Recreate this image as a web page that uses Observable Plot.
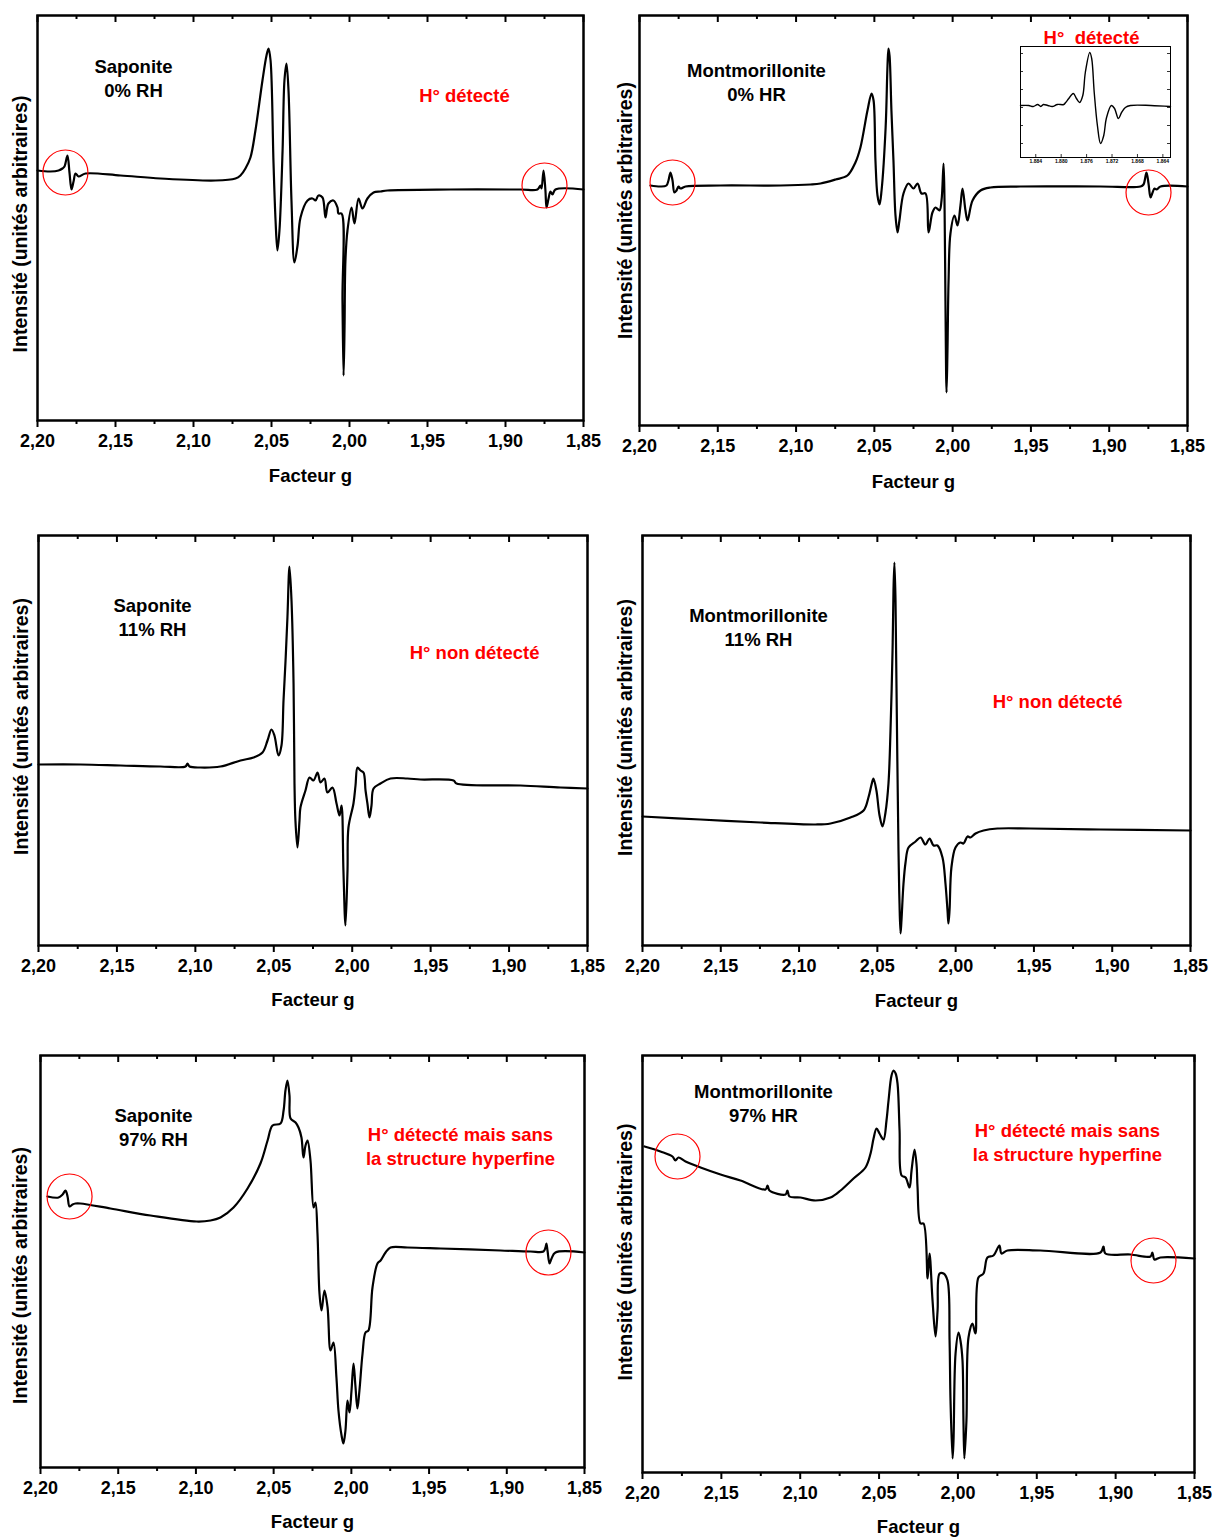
<!DOCTYPE html>
<html><head><meta charset="utf-8">
<script src="https://cdn.jsdelivr.net/npm/d3@7"></script>
<script src="https://cdn.jsdelivr.net/npm/@observablehq/plot@0.6"></script>
<style>
body{margin:0;background:#fff;}
#root{position:relative;width:1212px;height:1537px;overflow:hidden;font-family:"Liberation Sans",Arial,sans-serif;}
#root svg{position:absolute;overflow:visible;}
</style></head><body><div id="root"></div>
<script>
// ---------- DATA ----------
const majorTicks = [2.20, 2.15, 2.10, 2.05, 2.00, 1.95, 1.90, 1.85];
const minorTicks = [2.175, 2.125, 2.075, 2.025, 1.975, 1.925, 1.875];
const insetTicks = [1.884, 1.880, 1.876, 1.872, 1.868, 1.864];
const insetYTicks = [14, 32, 50, 68, 86, 104];
const xTitle = "Facteur g";
const yTitle = "Intensité (unités arbitraires)";

// [g factor, intensity (arbitrary units)]
const sap0 = [[2.2000,250],[2.1917,249],[2.1865,250],[2.1840,252],[2.1827,254],[2.1808,265],[2.1795,248],[2.1782,231],[2.1769,239],[2.1756,247],[2.1737,244],[2.1692,247],[2.1468,245],[2.1212,242],[2.0859,240],[2.0731,242],[2.0699,245],[2.0667,252],[2.0635,263],[2.0603,290],[2.0558,340],[2.0532,365],[2.0519,372],[2.0506,360],[2.0487,257],[2.0474,200],[2.0462,170],[2.0449,190],[2.0429,270],[2.0417,340],[2.0404,357],[2.0391,330],[2.0372,220],[2.0353,158],[2.0333,175],[2.0314,203],[2.0269,220],[2.0237,222],[2.0218,220],[2.0199,225],[2.0173,223],[2.0154,203],[2.0135,217],[2.0103,220],[2.0077,213],[2.0071,207],[2.0051,207],[2.0045,120],[2.0038,45],[2.0032,90],[2.0026,160],[2.0013,190],[1.9987,213],[1.9968,197],[1.9942,222],[1.9917,212],[1.9885,222],[1.9846,228],[1.9801,229],[1.9757,230],[1.9353,231],[1.8904,231],[1.8795,231],[1.8776,235],[1.8769,232],[1.8756,250],[1.8744,230],[1.8737,213],[1.8724,222],[1.8712,229],[1.8699,226],[1.8680,231],[1.8500,231]];

const mont0 = [[2.1930,240],[2.1866,239],[2.1828,240],[2.1815,245],[2.1802,253],[2.1789,245],[2.1777,233],[2.1764,235],[2.1751,239],[2.1738,237],[2.1706,239],[2.1483,240],[2.1099,240],[2.0908,241],[2.0844,242],[2.0748,246],[2.0672,250],[2.0621,263],[2.0589,278],[2.0544,315],[2.0518,332],[2.0505,325],[2.0493,265],[2.0480,230],[2.0467,221],[2.0454,235],[2.0428,298],[2.0416,360],[2.0410,377],[2.0403,370],[2.0391,315],[2.0378,265],[2.0365,210],[2.0352,193],[2.0340,205],[2.0314,232],[2.0282,242],[2.0250,237],[2.0224,242],[2.0199,232],[2.0173,232],[2.0154,193],[2.0129,213],[2.0109,218],[2.0084,215],[2.0071,225],[2.0058,262],[2.0052,225],[2.0046,125],[2.0039,33],[2.0033,75],[2.0026,145],[2.0014,192],[1.9988,210],[1.9969,200],[1.9950,220],[1.9937,237],[1.9918,215],[1.9905,205],[1.9873,225],[1.9822,235],[1.9758,238],[1.9567,239],[1.9056,239],[1.8800,239],[1.8781,241],[1.8762,253],[1.8749,242],[1.8736,228],[1.8723,233],[1.8711,237],[1.8698,236],[1.8672,239],[1.8500,239]];

const mont0Inset = [[1.8864,52],[1.8851,52],[1.8844,51],[1.8837,53],[1.8832,51],[1.8828,53],[1.8821,52],[1.8814,51],[1.8806,53],[1.8796,53],[1.8793,55],[1.8788,59],[1.8781,64],[1.8776,59],[1.8771,55],[1.8766,62],[1.8762,85],[1.8755,105],[1.8752,99],[1.8748,65],[1.8743,32],[1.8738,14],[1.8733,22],[1.8729,39],[1.8721,52],[1.8716,49],[1.8710,39],[1.8705,45],[1.8699,50],[1.8691,52],[1.8659,52],[1.8628,51]];

const sap11 = [[2.2000,181],[2.1732,181],[2.1477,180],[2.1222,179],[2.1063,179],[2.1050,182],[2.1037,179],[2.0967,178],[2.0840,179],[2.0712,185],[2.0629,188],[2.0572,193],[2.0540,205],[2.0515,216],[2.0496,210],[2.0470,190],[2.0451,200],[2.0438,245],[2.0425,285],[2.0413,328],[2.0400,379],[2.0387,345],[2.0374,262],[2.0368,162],[2.0362,125],[2.0349,98],[2.0336,125],[2.0330,138],[2.0298,155],[2.0272,168],[2.0247,165],[2.0221,173],[2.0202,163],[2.0177,167],[2.0158,153],[2.0126,158],[2.0100,142],[2.0081,130],[2.0068,140],[2.0056,75],[2.0043,20],[2.0030,75],[2.0024,118],[1.9992,142],[1.9979,160],[1.9966,178],[1.9947,175],[1.9928,173],[1.9915,155],[1.9903,142],[1.9890,128],[1.9877,140],[1.9864,157],[1.9820,162],[1.9756,167],[1.9648,167],[1.9565,166],[1.9354,165],[1.9335,162],[1.8927,160],[1.8672,158],[1.8500,157]];

const mont11 = [[2.2000,129],[2.1630,126],[2.1246,123],[2.0895,121],[2.0799,122],[2.0672,128],[2.0588,135],[2.0557,148],[2.0537,161],[2.0525,167],[2.0506,155],[2.0486,130],[2.0467,119],[2.0448,133],[2.0429,162],[2.0416,215],[2.0403,295],[2.0397,355],[2.0391,383],[2.0384,345],[2.0378,262],[2.0365,95],[2.0359,45],[2.0352,12],[2.0346,25],[2.0333,62],[2.0320,83],[2.0301,98],[2.0256,104],[2.0224,108],[2.0193,101],[2.0167,107],[2.0141,100],[2.0116,100],[2.0084,88],[2.0065,62],[2.0052,35],[2.0046,22],[2.0039,35],[2.0027,78],[2.0001,98],[1.9969,103],[1.9950,102],[1.9924,109],[1.9905,108],[1.9873,112],[1.9822,115],[1.9733,117],[1.9522,117],[1.9075,116],[1.8500,115]];

const sap97 = [[2.1955,271],[2.1884,270],[2.1858,273],[2.1839,277],[2.1826,271],[2.1813,261],[2.1794,263],[2.1775,264],[2.1743,264],[2.1550,259],[2.1292,252],[2.0996,246],[2.0906,247],[2.0842,250],[2.0758,260],[2.0668,279],[2.0585,304],[2.0539,327],[2.0507,342],[2.0456,344],[2.0436,357],[2.0424,377],[2.0411,387],[2.0398,372],[2.0391,349],[2.0359,345],[2.0340,340],[2.0321,330],[2.0308,310],[2.0295,322],[2.0282,327],[2.0263,307],[2.0243,260],[2.0231,265],[2.0218,234],[2.0205,174],[2.0192,157],[2.0173,177],[2.0153,160],[2.0134,117],[2.0115,125],[2.0096,90],[2.0083,57],[2.0063,32],[2.0051,24],[2.0038,37],[2.0025,67],[2.0012,55],[1.9999,77],[1.9986,104],[1.9974,82],[1.9961,59],[1.9948,77],[1.9928,114],[1.9909,135],[1.9890,137],[1.9864,180],[1.9832,204],[1.9812,207],[1.9780,215],[1.9748,220],[1.9639,220],[1.9426,219],[1.9040,217],[1.8847,216],[1.8764,216],[1.8751,220],[1.8745,224],[1.8738,217],[1.8725,204],[1.8712,209],[1.8687,215],[1.8500,215]];

const mont97 = [[2.1987,326],[2.1886,321],[2.1810,316],[2.1791,312],[2.1772,315],[2.1727,311],[2.1632,305],[2.1505,298],[2.1379,292],[2.1220,283],[2.1207,287],[2.1195,282],[2.1093,278],[2.1081,282],[2.1068,276],[2.0998,275],[2.0903,272],[2.0808,275],[2.0744,282],[2.0662,294],[2.0586,305],[2.0554,319],[2.0535,334],[2.0516,344],[2.0497,339],[2.0472,333],[2.0453,352],[2.0440,372],[2.0421,397],[2.0408,402],[2.0395,399],[2.0383,389],[2.0370,342],[2.0357,297],[2.0332,295],[2.0307,285],[2.0294,302],[2.0275,323],[2.0262,307],[2.0256,285],[2.0237,249],[2.0218,249],[2.0192,194],[2.0180,219],[2.0161,172],[2.0142,136],[2.0129,162],[2.0116,199],[2.0091,199],[2.0066,192],[2.0053,132],[2.0047,72],[2.0034,14],[2.0028,32],[2.0015,119],[1.9996,140],[1.9984,132],[1.9971,112],[1.9965,52],[1.9959,14],[1.9946,52],[1.9933,135],[1.9908,149],[1.9889,139],[1.9870,195],[1.9838,199],[1.9813,215],[1.9775,217],[1.9737,227],[1.9724,219],[1.9686,222],[1.9477,222],[1.9096,220],[1.9077,226],[1.9065,219],[1.8906,218],[1.8779,216],[1.8767,220],[1.8754,213],[1.8716,215],[1.8500,214]];

// H° signal markers (red circles) [g, intensity]
const sap0Circles = [[2.1821,248],[1.8750,235]];
const mont0Circles = [[2.1789,243],[1.8749,233]];
const sap97Circles = [[2.1813,271],[1.8732,215]];
const mont97Circles = [[2.1778,316],[1.8760,212]];

const sampleNames = ["Saponite\n0% RH", "Montmorillonite\n0% HR", "Saponite\n11% RH", "Montmorillonite\n11% RH", "Saponite\n97% RH", "Montmorillonite\n97% HR"];
const nameAnchors = [[2.1385,343.5],[2.1253,344.5],[2.1273,329.5],[2.1259,319.5],[2.1273,341.5],[2.1233,370.5]];
const notes = ["H° détecté", "H°\u00a0 détecté", "H° non détecté", "H° non détecté", "H° détecté mais sans\nla structure hyperfine", "H° détecté mais sans\nla structure hyperfine"];
const noteAnchors = [[1.9263,326],[1.9113,389],[1.9220,294],[1.9349,245],[1.9298,322.5],[1.9306,331.5]];

// ---------- LAYOUT ----------
const layout = [
  {x0:37,  x1:583,  y0:15,   y1:420,  titleDy:56, yDx:17, yDy:6},
  {x0:639, x1:1187, y0:15,   y1:425,  titleDy:57, yDx:14, yDy:-10},
  {x0:38,  x1:587,  y0:535,  y1:945,  titleDy:55, yDx:17, yDy:-14},
  {x0:642, x1:1190, y0:535,  y1:945,  titleDy:56, yDx:17, yDy:-13},
  {x0:40,  x1:584,  y0:1055, y1:1467, titleDy:55, yDx:20, yDy:14},
  {x0:642, x1:1194, y0:1055, y1:1472, titleDy:55, yDx:17, yDy:-12}
];
const series = [sap0, mont0, sap11, mont11, sap97, mont97];
const circles = [sap0Circles, mont0Circles, [], [], sap97Circles, mont97Circles];

const fmt = d => d.toFixed(2).replace(".", ",");
const root = document.getElementById("root");
const FONT = "'Liberation Sans', Arial, sans-serif";

layout.forEach((L, k) => {
  const W = L.x1 - L.x0, H = L.y1 - L.y0;
  const mL = 30, mT = 10, mR = 28, mB = 75;
  const pts = series[k].map(([g, i]) => ({g, i}));
  const circ = circles[k].map(([g, i]) => ({g, i}));
  const svg = Plot.plot({
    width: mL + W + mR, height: mT + H + mB,
    marginLeft: mL, marginRight: mR, marginTop: mT, marginBottom: mB,
    style: {fontFamily: FONT, fontWeight: "bold", color: "#000", background: "transparent", overflow: "visible"},
    x: {domain: [2.20, 1.85], label: null},
    y: {domain: [0, H], axis: null, label: null},
    marks: [
      Plot.tickX(majorTicks, {x: d => d, insetBottom: H - 7, strokeWidth: 2}),
      Plot.tickX(minorTicks, {x: d => d, insetBottom: H - 4, strokeWidth: 2}),
      Plot.axisX(majorTicks, {anchor: "bottom", tickSize: 7, tickPadding: 7, strokeWidth: 2, tickFormat: fmt, fontSize: 18, fontWeight: "bold", label: null}),
      Plot.axisX(minorTicks, {anchor: "bottom", tickSize: 4, strokeWidth: 2, tickFormat: () => "", label: null}),
      Plot.text([xTitle], {text: d => d, frameAnchor: "bottom", lineAnchor: "middle", textAnchor: "middle", dy: L.titleDy, fontSize: 18.5, fontWeight: "bold", fill: "#000"}),
      Plot.text([yTitle], {text: d => d, frameAnchor: "left", textAnchor: "middle", lineAnchor: "middle", rotate: -90, dx: -L.yDx, dy: L.yDy, fontSize: 19.5, fontWeight: "bold", fill: "#000"}),
      Plot.line(pts, {x: "g", y: "i", curve: "catmull-rom", stroke: "#000", strokeWidth: 2.2, strokeLinejoin: "round"}),
      Plot.dot(circ, {x: "g", y: "i", r: 22.5, stroke: "#ff0000", fill: "none", strokeWidth: 1.2}),
      Plot.text([sampleNames[k]], {text: d => d, x: () => nameAnchors[k][0], y: () => nameAnchors[k][1], fontSize: 18.5, fontWeight: "bold", lineHeight: 1.33, fill: "#000"}),
      Plot.text([notes[k]], {text: d => d, x: () => noteAnchors[k][0], y: () => noteAnchors[k][1], fontSize: 18.5, fontWeight: "bold", lineHeight: 1.33, fill: "#ff0000"}),
      Plot.frame({strokeWidth: 2.5, stroke: "#000"})
    ]
  });
  svg.style.left = (L.x0 - mL) + "px";
  svg.style.top = (L.y0 - mT) + "px";
  root.appendChild(svg);
});

// inset for Montmorillonite 0% HR
{
  const x0 = 1020, x1 = 1170, y0 = 46, y1 = 157;
  const W = x1 - x0, H = y1 - y0;
  const mL = 2, mT = 2, mR = 10, mB = 14;
  const svg = Plot.plot({
    width: mL + W + mR, height: mT + H + mB,
    marginLeft: mL, marginRight: mR, marginTop: mT, marginBottom: mB,
    style: {fontFamily: FONT, fontWeight: "bold", color: "#000", background: "transparent", overflow: "visible"},
    x: {domain: [1.8864, 1.8628], label: null},
    y: {domain: [0, H], axis: null, label: null},
    marks: [
      Plot.tickX(insetTicks, {x: d => d, insetTop: H - 3, strokeWidth: 0.8}),
      Plot.tickY(insetYTicks, {y: d => d, insetRight: W - 3, strokeWidth: 0.8}),
      Plot.tickY(insetYTicks, {y: d => d, insetLeft: W - 3, strokeWidth: 0.8}),
      Plot.axisX(insetTicks, {anchor: "bottom", tickSize: 0, tickPadding: 2, tickFormat: d => d.toFixed(3), fontSize: 5, fontWeight: "bold", label: null}),
      Plot.line(mont0Inset.map(([g, i]) => ({g, i})), {x: "g", y: "i", curve: "catmull-rom", stroke: "#000", strokeWidth: 1.4}),
      Plot.frame({strokeWidth: 1, stroke: "#000"})
    ]
  });
  svg.style.left = (x0 - mL) + "px";
  svg.style.top = (y0 - mT) + "px";
  root.appendChild(svg);
}
</script>
</body></html>
